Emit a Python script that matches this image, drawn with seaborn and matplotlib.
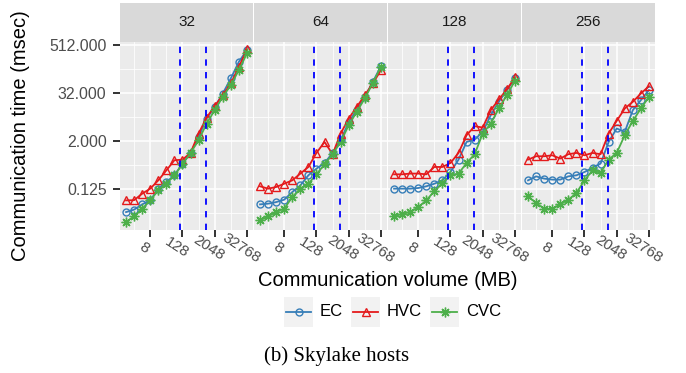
import numpy as np
import pandas as pd
import matplotlib
matplotlib.use("Agg")
import matplotlib.pyplot as plt
from matplotlib.lines import Line2D
from matplotlib.patches import Rectangle
from matplotlib.transforms import ScaledTranslation, blended_transform_factory
import matplotlib.ticker as mticker
import seaborn as sns

# ---------------- data ----------------
volume_mb = [1, 2, 4, 8, 16, 32, 64, 128, 256, 512, 1024, 2048, 4096, 8192, 16384, 32768]
hosts = ["32", "64", "128", "256"]
variants = ["EC", "HVC", "CVC"]

ec_32 = [0.0337, 0.0388, 0.0526, 0.0661, 0.130, 0.191, 0.281, 0.551, 1.02, 2.57, 7.41, 14.5, 31.3, 74.6, 195, 383]
hvc_32 = [0.0661, 0.0670, 0.0974, 0.130, 0.210, 0.373, 0.669, 0.693, 1.02, 3.12, 7.84, 15.1, 28.4, 56.1, 146, 399]
cvc_32 = [0.0190, 0.0263, 0.0409, 0.0661, 0.118, 0.173, 0.281, 0.529, 1.02, 2.11, 5.54, 12.0, 25.8, 50.9, 121, 317]

ec_64 = [0.0526, 0.0548, 0.0600, 0.0689, 0.107, 0.157, 0.281, 0.412, 0.570, 1.02, 2.11, 6.11, 12.0, 25.8, 61.4, 152]
hvc_64 = [0.149, 0.130, 0.143, 0.173, 0.210, 0.310, 0.454, 1.02, 1.92, 0.946, 3.12, 7.41, 14.5, 28.4, 56.1, 121]
cvc_64 = [0.0209, 0.0263, 0.0337, 0.0409, 0.0802, 0.130, 0.173, 0.297, 0.529, 0.946, 1.92, 5.03, 10.9, 23.6, 58.1, 146]

ec_128 = [0.130, 0.130, 0.130, 0.135, 0.149, 0.173, 0.210, 0.339, 0.693, 1.92, 2.20, 3.43, 9.00, 19.4, 38.1, 74.6]
hvc_128 = [0.297, 0.297, 0.310, 0.310, 0.297, 0.454, 0.454, 0.570, 1.02, 2.83, 4.76, 4.41, 12.0, 22.2, 39.7, 79.3]
cvc_128 = [0.0263, 0.0306, 0.0337, 0.0451, 0.0661, 0.113, 0.180, 0.281, 0.310, 0.570, 0.946, 3.12, 5.54, 13.2, 28.4, 65.3]

ec_256 = [0.210, 0.264, 0.232, 0.219, 0.219, 0.264, 0.281, 0.339, 0.438, 0.551, 1.92, 4.17, 3.43, 12.0, 21.4, 38.1]
hvc_256 = [0.693, 0.841, 0.841, 0.889, 0.737, 0.946, 1.02, 0.889, 1.02, 0.946, 3.12, 6.45, 13.2, 19.4, 31.3, 47.8]
cvc_256 = [0.0836, 0.0568, 0.0409, 0.0409, 0.0526, 0.0689, 0.101, 0.210, 0.373, 0.321, 0.693, 1.02, 2.83, 6.45, 13.2, 25.8]

series = {
    "32": {"EC": ec_32, "HVC": hvc_32, "CVC": cvc_32},
    "64": {"EC": ec_64, "HVC": hvc_64, "CVC": cvc_64},
    "128": {"EC": ec_128, "HVC": hvc_128, "CVC": cvc_128},
    "256": {"EC": ec_256, "HVC": hvc_256, "CVC": cvc_256},
}
vlines_mb = [100, 1000]
x_ticks = [8, 128, 2048, 32768]
x_tick_labels = ["8", "128", "2048", "32768"]
y_ticks = [0.125, 2, 32, 512]
y_tick_labels = ["0.125", "2.000", "32.000", "512.000"]

rows = []
for h in hosts:
    for v in variants:
        for x, y in zip(volume_mb, series[h][v]):
            rows.append({"hosts": h, "variant": v, "volume": x, "time": y})
df = pd.DataFrame(rows)

# ---------------- style ----------------
palette = {"EC": "#377EB8", "HVC": "#E41A1C", "CVC": "#4DAF4A"}
markers = {"EC": "o", "HVC": "^", "CVC": (8, 2, 0)}
msizes = {"EC": 5, "HVC": 6, "CVC": 7}
FONT = ["Liberation Sans", "DejaVu Sans"]
plt.rcParams["font.family"] = FONT

W, H = 686, 373
fig = plt.figure(figsize=(W / 100, H / 100), dpi=100)


def fx(px):
    return px / W


def fy(py):
    return 1 - py / H


panel_left = [120, 254, 388, 522]
panel_w = 133
p_top, p_bot = 42, 230
strip_top = 3

xlim = (2 ** -0.75, 2 ** 15.75)
ylim = (2 ** -6.38, 2 ** 9.25)
xlab_shift = ScaledTranslation(-6 / 100, -18 / 100, fig.dpi_scale_trans)

for i, h in enumerate(hosts):
    x0 = panel_left[i]
    ax = fig.add_axes([fx(x0), fy(p_bot), panel_w / W, (p_bot - p_top) / H])
    ax.set_facecolor("#EBEBEB")

    for v in variants:
        sub = df[(df["hosts"] == h) & (df["variant"] == v)]
        sns.lineplot(data=sub, x="volume", y="time", color=palette[v],
                     marker=markers[v], legend=False, ax=ax,
                     linewidth=1.3, markersize=msizes[v], markeredgewidth=1.0,
                     markerfacecolor="none", markeredgecolor=palette[v])

    ax.set_xscale("log", base=2)
    ax.set_yscale("log", base=2)
    ax.set_xlim(*xlim)
    ax.set_ylim(*ylim)
    ax.xaxis.set_major_locator(mticker.FixedLocator(x_ticks))
    ax.xaxis.set_minor_locator(mticker.FixedLocator([2, 32, 512, 8192]))
    ax.yaxis.set_major_locator(mticker.FixedLocator(y_ticks))
    ax.yaxis.set_minor_locator(mticker.FixedLocator([2 ** -5, 0.5, 8, 128]))
    ax.xaxis.set_minor_formatter(mticker.NullFormatter())
    ax.yaxis.set_minor_formatter(mticker.NullFormatter())
    ax.xaxis.set_major_formatter(mticker.NullFormatter())
    if i == 0:
        ax.yaxis.set_major_formatter(mticker.FixedFormatter(y_tick_labels))
    else:
        ax.yaxis.set_major_formatter(mticker.NullFormatter())
    ax.grid(True, which="major", color="white", linewidth=1.1)
    ax.grid(True, which="minor", color="white", linewidth=0.55)
    ax.set_axisbelow(True)
    for s in ax.spines.values():
        s.set_visible(False)
    ax.tick_params(which="minor", length=0)
    ax.tick_params(which="major", length=4.7, width=1.4, color="#333333",
                   labelcolor="#4D4D4D")
    ax.tick_params(axis="y", which="major", labelsize=11.4, pad=5)
    if i != 0:
        ax.tick_params(axis="y", which="major", length=0)

    # rotated x tick labels (ggplot angle = -30 style)
    tr = blended_transform_factory(ax.transData, ax.transAxes) + xlab_shift
    for xv, lab in zip(x_ticks, x_tick_labels):
        ax.text(xv, 0, lab, transform=tr, rotation=-33, rotation_mode="anchor",
                ha="center", va="center", fontsize=11, color="#4D4D4D", clip_on=False)

    for v in vlines_mb:
        ax.axvline(v, color="#0000FF", linestyle=(0, (3.5, 3.5)), linewidth=1.3, zorder=5)
    ax.set_xlabel("")
    ax.set_ylabel("")

    # strip
    sax = fig.add_axes([fx(x0), fy(p_top), panel_w / W, (p_top - strip_top) / H])
    sax.set_facecolor("#D9D9D9")
    sax.set_xticks([])
    sax.set_yticks([])
    for s in sax.spines.values():
        s.set_visible(False)
    sax.text(0.5, 0.5, h, ha="center", va="center", fontsize=11, color="#1A1A1A",
             transform=sax.transAxes)

# axis titles
fig.text(fx(387.5), fy(281), "Communication volume (MB)", ha="center", va="center",
         fontsize=14.5, color="black")
fig.text(fx(21), fy(136), "Communication time (msec)", ha="center", va="center",
         rotation=90, fontsize=14.5, color="black")

# legend (ggplot-like keys with grey background)
key_w, key_h = 29, 30
legend_items = [(variants[0], 284, 320), (variants[1], 351, 387), (variants[2], 430, 466)]
ly = 297
for name, kx, tx in legend_items:
    fig.patches.append(Rectangle((fx(kx), fy(ly + key_h)), key_w / W, key_h / H,
                                 transform=fig.transFigure, facecolor="#F2F2F2",
                                 edgecolor="none", zorder=1))
    fig.lines.append(Line2D([fx(kx + 2), fx(kx + key_w - 2)], [fy(ly + key_h / 2)] * 2,
                            transform=fig.transFigure, color=palette[name], linewidth=1.3,
                            zorder=2))
    fig.lines.append(Line2D([fx(kx + key_w / 2)], [fy(ly + key_h / 2)],
                            transform=fig.transFigure, color=palette[name], linestyle="none",
                            marker=markers[name], markersize=msizes[name], markeredgewidth=1.0,
                            markerfacecolor="none", markeredgecolor=palette[name], zorder=3))
    fig.text(fx(tx), fy(ly + key_h / 2), name, ha="left", va="center", fontsize=12,
             color="black")

# caption
fig.text(fx(337), fy(356), "(b) Skylake hosts", ha="center", va="center",
         fontsize=15, family=["Liberation Serif", "DejaVu Serif"], color="black")

fig.savefig("out.png", dpi=100, facecolor="white")
